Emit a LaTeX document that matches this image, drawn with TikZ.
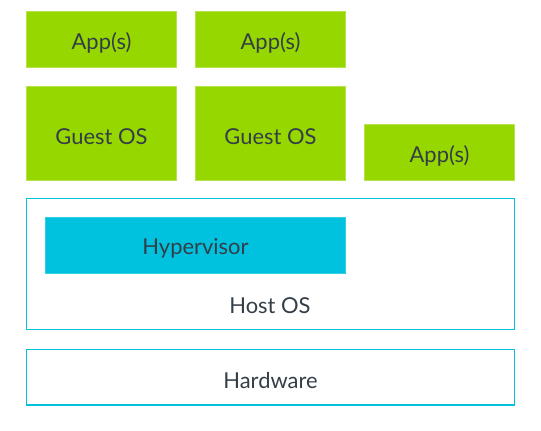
\documentclass[tikz,border=0pt]{standalone}
\usepackage{fontspec}
\setmainfont{Lato}
\definecolor{lgreen}{HTML}{97D700}
\definecolor{lcyan}{HTML}{00C1DE}
\definecolor{txt}{HTML}{333E48}
\begin{document}
\begin{tikzpicture}[x=1bp,y=-1bp,
  tf/.style={text=txt,font=\fontsize{22}{26}\selectfont,yshift=-3bp},
  gbox/.style={fill=lgreen,draw=lgreen!70!white,line width=0.6bp},
  hbox/.style={fill=lcyan,draw=lcyan!80!white,line width=0.6bp},
  obox/.style={draw=lcyan,line width=1.5bp}]
\path[use as bounding box,fill=white] (0,0) rectangle (541,430);
\path[gbox] (26.5,11.5) rectangle (176.5,67.5) node[midway,tf] (app1) {App(s)};
\path[gbox] (195.5,11.5) rectangle (345.5,67.5) node[midway,tf] (app2) {App(s)};
\path[gbox] (26.5,86.5) rectangle (176.5,180.5) node[midway,tf] (g1) {Guest OS};
\path[gbox] (195.5,86.5) rectangle (345.5,180.5) node[midway,tf] (g2) {Guest OS};
\path[gbox] (364.5,124.5) rectangle (514.5,180.5) node[midway,tf] (app3) {App(s)};
\draw[obox] (26.5,198.5) rectangle (514.5,329.5);
\path[hbox] (45.5,217.5) rectangle (345.5,273.5) node[midway,tf] (hyp) {Hypervisor};
\node[tf] (host) at (270,303) {Host OS};
\draw[obox] (26.5,349.5) rectangle (514.5,405) node[midway,tf] (hw) {Hardware};
\end{tikzpicture}
\end{document}
